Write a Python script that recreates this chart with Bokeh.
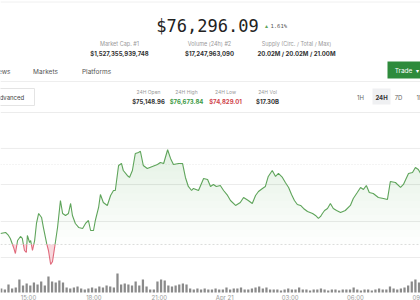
import numpy as np
from bokeh.plotting import figure
from bokeh.models import Range1d, Span
from bokeh.core.properties import value
from bokeh.embed import file_html
from bokeh.resources import INLINE

# ---------------- data ----------------
# minutes relative to Apr 20 15:00
price_minutes = [-77, -63, -55, -50, -41, -36, -30, -22, -17, -11, -6, -3, 3, 6, 11, 17, 22, 28, 36, 41,
                 50, 55, 61, 66, 72, 80, 88, 94, 102, 110, 116, 121, 129, 138, 149, 157, 165, 171, 179, 184,
                 193, 198, 206, 217, 226, 234, 239, 248, 256, 261, 272, 278, 286, 294, 303, 308, 316, 327, 341, 355,
                 363, 372, 383, 391, 399, 413, 424, 432, 440, 449, 454, 468, 482, 493, 501, 509, 517, 528, 537, 548,
                 556, 570, 583, 592, 605, 616, 625, 633, 644, 652, 660, 671, 680, 688, 699, 707, 716, 724, 732, 740,
                 749, 757, 768, 782, 790, 798, 804, 809, 815, 823, 831, 839, 848, 859, 872, 886, 894, 905, 914, 922,
                 930, 938, 949, 963, 977, 988, 996, 1010, 1024, 1032, 1046, 1057, 1065, 1073, 1079]
prices = [75326, 75342, 75294, 75246, 75101, 75004, 75213, 75278, 75246, 75052, 75020, 75294, 75181, 75213, 75052, 75213, 75487, 75648, 75584, 75423,
          75165, 75052, 74829, 74870, 75101, 75423, 75857, 75648, 75616, 75648, 75809, 75616, 75487, 75423, 75407, 75487, 75535, 75374, 75374, 75535,
          75745, 75954, 75825, 75777, 75938, 76018, 76018, 76421, 76453, 76340, 76260, 76228, 76340, 76614, 76630, 76650, 76421, 76373, 76405, 76437,
          76469, 76453, 76674, 76534, 76437, 76453, 76453, 76228, 76083, 76018, 76051, 76018, 76212, 76196, 76083, 76115, 76083, 76099, 76018, 75938,
          75857, 75777, 75825, 75906, 75857, 75809, 75938, 76002, 76051, 76083, 76244, 76340, 76244, 76292, 76228, 76147, 76067, 75954, 75857, 75793,
          75777, 75729, 75680, 75648, 75616, 75568, 75600, 75648, 75696, 75729, 75809, 75729, 75696, 75664, 75696, 75777, 75890, 75986, 76067, 76035,
          76099, 75986, 75970, 75906, 75890, 75874, 76163, 76147, 76067, 76115, 76292, 76308, 76389, 76357, 76296]
open_price = 75148.96

# volume per 10-minute bar, $M
volumes = [80, 60, 160, 80, 100, 260, 140, 180, 140, 200,
           160, 220, 140, 320, 220, 200, 240, 200, 100, 80,
           100, 120, 80, 60, 80, 100, 80, 120, 100, 140,
           120, 100, 380, 160, 180, 160, 140, 220, 140, 260,
           120, 60, 60, 220, 260, 240, 140, 120, 140, 160,
           180, 160, 80, 60, 80, 60, 80, 60, 60, 80,
           60, 60, 100, 60, 80, 80, 100, 60, 60, 80,
           100, 120, 80, 100, 60, 60, 60, 40, 60, 80,
           60, 60, 100, 60, 60, 40, 60, 60, 80, 60,
           40, 60, 60, 40, 60, 60, 60, 100, 60, 40,
           60, 60, 40, 60, 80, 60, 60, 120, 80, 60,
           80, 100, 140, 220, 260, 200]
vol_minutes = np.arange(-75, 1076, 10)

grid_prices = [77274, 76695, 76115, 75519, 74940]
ref_price = 76437

tick_minutes = [0, 180, 360, 540, 720, 900, 1080]
tick_labels = ["15:00", "18:00", "21:00", "Apr 21", "03:00", "06:00", "09:00"]

header_price = "$76,296.09"
header_change = "1.61%"
stat_titles = ["Market Cap. #1", "Volume (24h) #2", "Supply (Circ. / Total / Max)"]
stat_values = ["$1,527,355,939,748", "$17,247,963,090", "20.02M / 20.02M / 21.00M"]
tabs = ["News", "Markets", "Platforms"]
h24_titles = ["24H Open", "24H High", "24H Low", "24H Vol"]
h24_values = ["$75,148.96", "$76,673.84", "$74,829.01", "$17.30B"]
ranges = ["1H", "24H", "7D", "1M"]

GREEN = "#5ea45a"
RED = "#e06a7c"
FONT = "Inter"

# ---------------- figure ----------------
p = figure(width=420, height=300, output_backend="svg", toolbar_location=None,
           x_range=Range1d(-77, 1079), y_range=Range1d(74247, 79077),
           x_axis_type=None, y_axis_type=None, min_border=0)
p.outline_line_color = None
p.background_fill_color = "white"
p.border_fill_color = "white"
p.extra_y_ranges = {"vol": Range1d(-160, 5840), "py": Range1d(300, 0)}
p.extra_x_ranges = {"px": Range1d(0, 420)}

for g in grid_prices:
    p.add_layout(Span(location=g, dimension="width", line_color="#ececec", line_width=1, level="underlay"))
p.add_layout(Span(location=ref_price, dimension="width", line_color="#e8e8e8", line_width=1,
                  line_dash="1 2", level="underlay"))
p.add_layout(Span(location=open_price, dimension="width", line_color="#dddddd", line_width=1,
                  line_dash="2 2", level="underlay"))

# insert baseline crossings
t = np.array(price_minutes, float)
y = np.array(prices, float)
xs, ys = [t[0]], [y[0]]
for i in range(1, len(t)):
    y0, y1 = y[i - 1], y[i]
    if (y0 - open_price) * (y1 - open_price) < 0:
        f = (open_price - y0) / (y1 - y0)
        xs.append(t[i - 1] + f * (t[i] - t[i - 1]))
        ys.append(open_price)
    xs.append(t[i])
    ys.append(y[i])
xs = np.array(xs)
ys = np.array(ys)

# green gradient fill (stacked layers)
top = ys.max()
for lvl in np.linspace(open_price, top, 14)[:-1]:
    p.varea(x=xs, y1=np.maximum(ys, lvl), y2=lvl, fill_color=GREEN, fill_alpha=0.011)
# red fill below open
p.varea(x=xs, y1=open_price, y2=np.minimum(ys, open_price), fill_color="#f3b9c3", fill_alpha=0.55)

p.line(xs, np.where(ys >= open_price, ys, np.nan), line_color=GREEN, line_width=1.1)
p.line(xs, np.where(ys <= open_price, ys, np.nan), line_color=RED, line_width=1.1)

# volume bars
p.vbar(x=vol_minutes, top=volumes, bottom=0, width=6.2, y_range_name="vol",
       fill_color="#8a8a8a", line_color=None)

# time tick labels
p.text(x=tick_minutes, y=[-105] * len(tick_minutes), text=tick_labels, y_range_name="vol",
       text_font=value(FONT), text_font_size="6px", text_color="#9a9a9a",
       text_align="center", text_baseline="middle")


def txt(x, yy, s, size, color, bold=False, align="center", font=FONT):
    p.text(x=[x], y=[yy], text=[s], x_range_name="px", y_range_name="py",
           text_font=value(font), text_font_size=f"{size}px", text_color=color,
           text_font_style="bold" if bold else "normal", text_align=align, text_baseline="middle")


def box(l, r, t_, b, fill, line=None):
    p.quad(left=[l], right=[r], top=[t_], bottom=[b], x_range_name="px", y_range_name="py",
           fill_color=fill, line_color=line)


# header
p.segment(x0=[0], x1=[420], y0=[1.5], y1=[1.5], x_range_name="px", y_range_name="py",
          line_color="#f0f0f0", line_width=1)
txt(207, 25, header_price, 17, "#222222", font="DejaVu Sans Mono")
txt(264, 25, "\u25b4", 6, GREEN, align="left")
txt(270, 25, header_change, 5.5, "#555555", align="left", font="DejaVu Sans Mono")
for cx, s1, s2 in zip([119, 209, 296], stat_titles, stat_values):
    txt(cx, 43, s1, 5.5, "#999999")
    txt(cx, 53, s2, 6, "#333333", bold=True)

# tabs
txt(10, 71, tabs[0], 6.5, "#555555", align="right")
txt(45, 71, tabs[1], 6.5, "#555555")
txt(96, 71, tabs[2], 6.5, "#555555")
p.segment(x0=[0], x1=[420], y0=[81], y1=[81], x_range_name="px", y_range_name="py",
          line_color="#eeeeee", line_width=1)
box(387, 426, 61, 78, "#2e8b3c")
txt(403, 70, "Trade", 6.5, "white")
txt(417, 70, "\u25be", 6, "white")

# controls row
box(-4, 34, 88, 105, "white", "#e4e4e4")
txt(-5, 96.5, "Advanced", 6, "#444444", align="left")
for cx, s1, s2, col in zip([148, 186, 225, 267], h24_titles, h24_values,
                           ["#333333", "#3d9a46", "#d0454c", "#333333"]):
    txt(cx, 91, s1, 5, "#999999")
    txt(cx, 101, s2, 6, col, bold=True)
box(372, 390, 88, 104, "#eff0f2")
for cx, s in zip([360, 381, 398, 420], ranges):
    txt(cx, 96.5, s, 6, "#333333" if s == "24H" else "#666666", bold=(s == "24H"))

open("out.html", "w").write(file_html(p, INLINE))
